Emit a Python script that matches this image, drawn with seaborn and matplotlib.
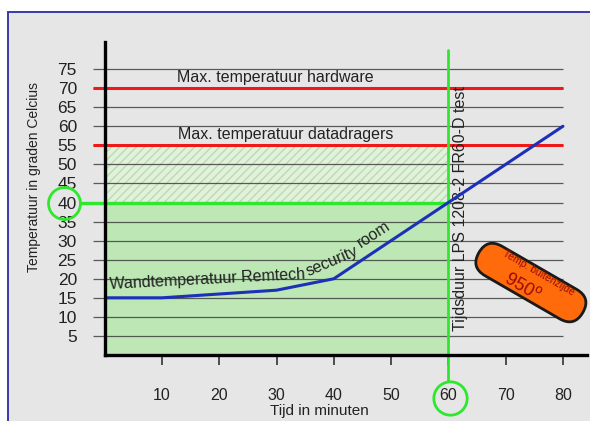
import numpy as np
import pandas as pd
import matplotlib
matplotlib.use("Agg")
import matplotlib.pyplot as plt
import matplotlib.transforms as mtransforms
from matplotlib.patches import FancyBboxPatch, Rectangle
import seaborn as sns

# --- Data ---
tijd = [0, 10, 30, 40, 60, 80]          # minuten
wand_temp = [15, 15, 17, 20, 40, 60]    # graden Celcius
max_hardware = 70
max_datadragers = 55
test_duur = 60
temp_bij_test = 40
grid_levels = list(range(5, 80, 5))
x_ticks = list(range(10, 90, 10))

# --- Style ---
sns.set_style("white")
plt.rcParams['font.family'] = ['Liberation Sans', 'DejaVu Sans']
text_col = '#222222'
green = '#2ee82e'
red = '#ee1a1a'
blue = '#1c30b8'

fig = plt.figure(figsize=(5.9, 4.21), dpi=100, facecolor='white')
# grey panel with blue frame
fig.add_artist(Rectangle((8 / 590, -0.1), 1.1, (421 - 12) / 421 + 0.1,
                         transform=fig.transFigure, facecolor='#e6e6e6',
                         edgecolor='#3a3aa8', linewidth=1.4, zorder=0))

ax = fig.add_axes([104.7 / 590, 66 / 421, 482.3 / 590, 313 / 421])
ax.set_facecolor('none')
ax.set_xlim(0, 84.2)
ax.set_ylim(0, 82.1)

# green area and hatched band
ax.fill_between([0, test_duur], 0, temp_bij_test, color='#bde8b6', linewidth=0, zorder=1)
ax.fill_between([0, test_duur], temp_bij_test, max_datadragers, facecolor='#e2f1dc',
                edgecolor='#b8dcb0', hatch='////', linewidth=0, zorder=1)

# grid lines (also act as y ticks)
ax.hlines(grid_levels, -2, 80, color='#404040', linewidth=0.9, alpha=0.85,
          clip_on=False, zorder=2)

# red limits
ax.hlines([max_hardware, max_datadragers], -2, 80, color=red, linewidth=2.2,
          clip_on=False, zorder=3)
ax.text(12.6, max_hardware + 0.9, 'Max. temperatuur hardware', fontsize=11.5,
        color=text_col, va='bottom', ha='left', zorder=5)
ax.text(12.8, max_datadragers + 0.9, 'Max. temperatuur datadragers', fontsize=11.5,
        color=text_col, va='bottom', ha='left', zorder=5)

# blue wall temperature
df = pd.DataFrame({'tijd': tijd, 'temp': wand_temp})
sns.lineplot(data=df, x='tijd', y='temp', color=blue, linewidth=2.2, ax=ax, zorder=6)
ax.text(0.9, 17.2, 'Wandtemperatuur Remtech', fontsize=11.5, color=text_col,
        rotation=3, rotation_mode='anchor', ha='left', va='baseline', zorder=5)
ax.text(35.6, 20.6, 'security', fontsize=11.5, color=text_col,
        rotation=23, rotation_mode='anchor', ha='left', va='baseline', zorder=5)
ax.text(44.8, 28.0, 'room', fontsize=11.5, color=text_col,
        rotation=33, rotation_mode='anchor', ha='left', va='baseline', zorder=5)

# green markers for 60 min / 40 degrees
ax.plot([test_duur, test_duur], [-6.9, 80], color=green, linewidth=2, clip_on=False, zorder=4)
ax.plot([-4.1, test_duur], [temp_bij_test, temp_bij_test], color=green, linewidth=2.4,
        clip_on=False, zorder=4)
ax.plot(-7.1, temp_bij_test, marker='o', ms=23, mfc='none', mec=green, mew=2,
        clip_on=False, zorder=4)
ax.plot(test_duur + 0.3, -11.3, marker='o', ms=24, mfc='none', mec=green, mew=2,
        clip_on=False, zorder=4)

ax.text(62.1, 38.5, 'Tijdsduur LPS 1208-2 FR60-D test', fontsize=11.5, color=text_col,
        rotation=90, ha='center', va='center', zorder=5)

# orange label box
trans = mtransforms.Affine2D().rotate_deg(-30) + mtransforms.ScaledTranslation(74.4, 19.0, ax.transData)
box = FancyBboxPatch((-60, -17), 120, 34, boxstyle='round,pad=0,rounding_size=17',
                     transform=trans, facecolor='#ff6a0a', edgecolor='#1a1a1a',
                     linewidth=2, zorder=7, clip_on=False)
ax.add_artist(box)
ax.text(75.8, 21.6, 'Temp. buitenzijde', fontsize=7.5, color='#9a0a0a', rotation=-30,
        ha='center', va='center', zorder=8)
ax.text(72.9, 18.0, r'950$^{\mathrm{o}}$', fontsize=13, color='#9a0a0a', rotation=-30,
        ha='center', va='center', zorder=8)

# axes
sns.despine(ax=ax, top=True, right=True)
for side in ['left', 'bottom']:
    ax.spines[side].set_color('black')
    ax.spines[side].set_linewidth(2.4)
    ax.spines[side].set_zorder(6)
ax.set_xticks(x_ticks)
ax.set_yticks(grid_levels)
ax.tick_params(axis='x', length=7.5, width=1.2, color='#333333', pad=16,
               labelsize=11.5, labelcolor=text_col, direction='out', bottom=True)
ax.tick_params(axis='y', length=0, pad=20, labelsize=12.5, labelcolor=text_col, left=True)

ax.set_xlabel('Tijd in minuten', fontsize=11, color=text_col)
ax.xaxis.set_label_coords(0.446, -0.155)
ax.set_ylabel('Temperatuur in graden Celcius', fontsize=10, color=text_col)
ax.yaxis.set_label_coords(-0.133, 0.57)

fig.savefig('out.png', dpi=100, facecolor=fig.get_facecolor())
